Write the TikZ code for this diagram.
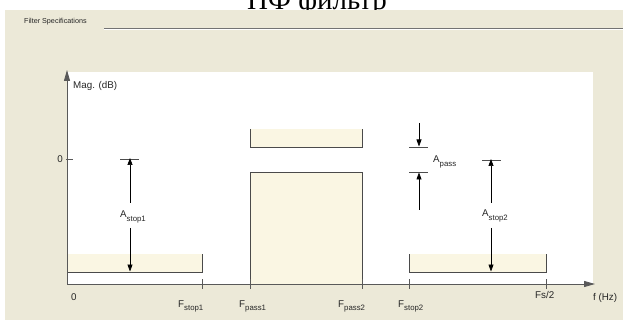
\documentclass[tikz,border=0pt]{standalone}
\usepackage{fontspec}
\setmainfont{Liberation Sans}
\newfontfamily\titlefont{Liberation Serif}
\usetikzlibrary{arrows.meta}
\definecolor{panel}{HTML}{ECE9D8}
\definecolor{cream}{HTML}{FAF6E3}
\definecolor{edge}{HTML}{4A4A4A}
\newcommand{\lbl}[2]{#1\raisebox{-3.5pt}{\fontsize{7.8}{8}\selectfont #2}}
\begin{document}
\begin{tikzpicture}[x=1pt,y=-1pt,
  lab/.style={inner sep=0pt, font=\fontsize{9.8}{10}\selectfont, text=black!85},
  band/.style={fill=cream, draw=none},
  edgeline/.style={draw=edge, line width=0.8pt},
  meas/.style={draw=black, line width=0.7pt, -{Triangle[length=7pt,width=5pt]}},
  bar/.style={draw=black!70, line width=0.7pt},
  axis/.style={draw=black!65, line width=0.8pt, -{Triangle[length=11pt,width=6pt]}},
  tickmark/.style={draw=black!65, line width=0.6pt}]
\useasboundingbox (0,0) rectangle (623,320);
\fill[white] (0,0) rectangle (623,320);
\node[font=\titlefont\fontsize{29}{30}\selectfont, anchor=base, inner sep=0pt] (title) at (317,9.5) {ПФ фильтр};
\fill[panel] (5,10) rectangle (623,320);
\node[anchor=west, inner sep=0pt, font=\fontsize{7.2}{8}\selectfont, text=black!85] (spec) at (24,22) {Filter Specifications};
\coordinate (sepL) at (104,28.3);
\coordinate (sepR) at (623,28.3);
\draw[black!55, line width=0.8pt] (sepL) -- (sepR);
\draw[white, line width=0.6pt] ([yshift=-1pt]sepL) -- ([yshift=-1pt]sepR);
% plot area
\fill[white] (67,72) rectangle (593,284);
% bands
\fill[cream] (67,254) rectangle (202,272);
\draw[edgeline] (67,272) -- (202,272) -- (202,254);
\fill[cream] (250,129) rectangle (362,147);
\draw[edgeline] (250,129) -- (250,147) -- (362,147) -- (362,129);
\fill[cream] (250,172) rectangle (362,284);
\draw[edgeline] (250,284) -- (250,172) -- (362,172) -- (362,284);
\fill[cream] (409,254) rectangle (546,272);
\draw[edgeline] (409,254) -- (409,272) -- (546,272) -- (546,254);
% axes
\coordinate (O) at (67,284);
\coordinate (ytip) at (67,70);
\coordinate (xtip) at (595,284);
\draw[axis] (O) -- (ytip);
\draw[axis] (O) -- (xtip);
\foreach \x in {202,250,362,409,546} \draw[tickmark] (\x,279) -- (\x,289);
\draw[tickmark] (66,159) -- (73,159);
% axis labels
\node[lab, anchor=west] (mag) at (73,86) {Mag. (dB)};
\node[lab, anchor=east] (zeroy) at (63,159) {0};
\node[lab, anchor=base west] (zerox) at (71,300) {0};
\node[lab, anchor=base west] (fs1) at (178,307) {\lbl{F}{stop1}};
\node[lab, anchor=base west] (fp1) at (239,307) {\lbl{F}{pass1}};
\node[lab, anchor=base west] (fp2) at (338,307) {\lbl{F}{pass2}};
\node[lab, anchor=base west] (fs2) at (398,307) {\lbl{F}{stop2}};
\node[lab, anchor=base west] (fsh) at (535,298.5) {Fs/2};
\node[lab, anchor=base west] (fhz) at (593,300.5) {f (Hz)};
% A stop1
\node[lab, anchor=base west] (as1) at (120,218) {\lbl{A}{stop1}};
\coordinate (as1b) at (130,159);
\draw[bar] (120,159) -- (139,159);
\draw[meas] (130,203) -- ([yshift=1pt]as1b);
\draw[meas] (130,228) -- (130,271.5);
% A stop2
\node[lab, anchor=base west] (as2) at (482,217) {\lbl{A}{stop2}};
\coordinate (as2b) at (491,160);
\draw[bar] (482,160) -- (501,160);
\draw[meas] (491,203) -- ([yshift=1pt]as2b);
\draw[meas] (491,228) -- (491,271.5);
% A pass
\node[lab, anchor=base west] (ap) at (433,163) {\lbl{A}{pass}};
\draw[bar] (409,147) -- (428,147);
\draw[bar] (409,172) -- (428,172);
\coordinate (apt) at (419,146.5);
\coordinate (apb) at (419,172.5);
\draw[meas] (419,123) -- (apt);
\draw[meas] (419,210) -- (apb);
\end{tikzpicture}
\end{document}
